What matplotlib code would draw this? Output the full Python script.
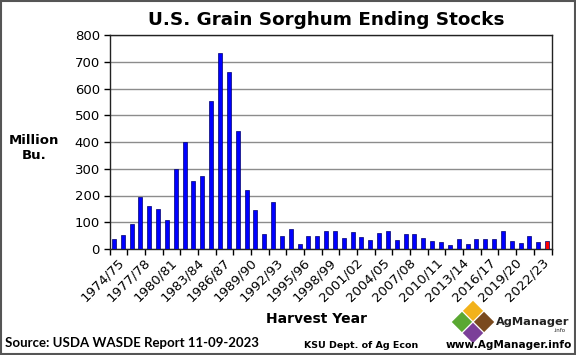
import numpy as np
import matplotlib.pyplot as plt
from matplotlib.patches import Polygon, Rectangle

years = [f"{y}/{str(y + 1)[-2:]}" for y in range(1974, 2024)]
stocks = [37, 52, 93, 193, 160, 148, 110, 299, 399, 253,
          272, 552, 733, 663, 442, 222, 145, 55, 176, 50,
          75, 20, 50, 50, 67, 67, 42, 62, 45, 35,
          60, 67, 34, 55, 57, 42, 30, 25, 16, 36,
          19, 39, 36, 39, 67, 31, 21, 50, 26, 30]
bar_colors = ['#0000ff'] * (len(years) - 1) + ['#ff0000']

W, H = 576, 355


def fx(px):
    return px / W


def fy(py):
    return 1 - py / H


fig = plt.figure(figsize=(W / 100, H / 100), dpi=100)
fig.patches.append(Rectangle((0.001, 0.002), 0.997, 0.996, transform=fig.transFigure,
                             fill=False, edgecolor='#555555', lw=1.5))

ax = fig.add_axes([fx(109.5), fy(249), fx(551.5) - fx(109.5), fy(35) - fy(249)])
x = np.arange(len(years))
ax.bar(x, stocks, width=0.45, color=bar_colors, edgecolor='#00006e', lw=0.5, zorder=3)

ax.set_xlim(-0.5, len(years) - 0.5)
ax.set_ylim(0, 800)
ax.set_yticks(range(0, 801, 100))
ax.yaxis.grid(True, color='#8c8c8c', lw=1)
ax.set_axisbelow(True)
ax.tick_params(axis='y', direction='out', length=4, width=1, labelsize=9.5, pad=3)
for s in ax.spines.values():
    s.set_color('#222222')
    s.set_linewidth(1)

# ticks every 2 categories, labels every 3
ax.set_xticks(np.arange(-0.5, len(years), 2))
ax.set_xticklabels([])
ax.tick_params(axis='x', direction='out', length=4, width=1)
for i in range(0, len(years), 3):
    ax.text(i + 0.4, -25, years[i], rotation=45, ha='right', va='top',
            rotation_mode='anchor', fontsize=9.5, transform=ax.transData)

fig.text(fx(326), fy(20), 'U.S. Grain Sorghum Ending Stocks', ha='center', va='center',
         fontsize=13.2, fontweight='bold')
fig.text(fx(34), fy(148), 'Million\nBu.', ha='center', va='center', fontsize=9.5,
         fontweight='bold', linespacing=1.2)
fig.text(fx(316), fy(319), 'Harvest Year', ha='center', va='center', fontsize=10,
         fontweight='bold')
fig.text(fx(5), fy(343), 'Source: USDA WASDE Report 11-09-2023', ha='left', va='center',
         fontsize=9.5, fontweight='bold', family='Lato')
fig.text(fx(304), fy(345), 'KSU Dept. of Ag Econ', ha='left', va='center',
         fontsize=6.8, fontweight='bold')
fig.text(fx(572), fy(345), 'www.AgManager.info', ha='right', va='center',
         fontsize=7.6, fontweight='bold')

# logo
def diamond(cx, cy, r, color):
    pts = [(fx(cx), fy(cy - r)), (fx(cx + r), fy(cy)), (fx(cx), fy(cy + r)), (fx(cx - r), fy(cy))]
    fig.patches.append(Polygon(pts, closed=True, transform=fig.transFigure,
                               facecolor=color, edgecolor='white', lw=0.8))


diamond(473, 311, 11, '#f2b21b')
diamond(462, 322, 11, '#5aa832')
diamond(484, 322, 11, '#7a4a1e')
diamond(473, 333, 11, '#7b3f98')
fig.text(fx(496), fy(322), 'AgManager', ha='left', va='center', fontsize=8.2,
         fontweight='bold', color='#222222')
fig.text(fx(566), fy(331), '.info', ha='right', va='center', fontsize=4,
         color='#222222')

fig.savefig('out.png', dpi=100)
